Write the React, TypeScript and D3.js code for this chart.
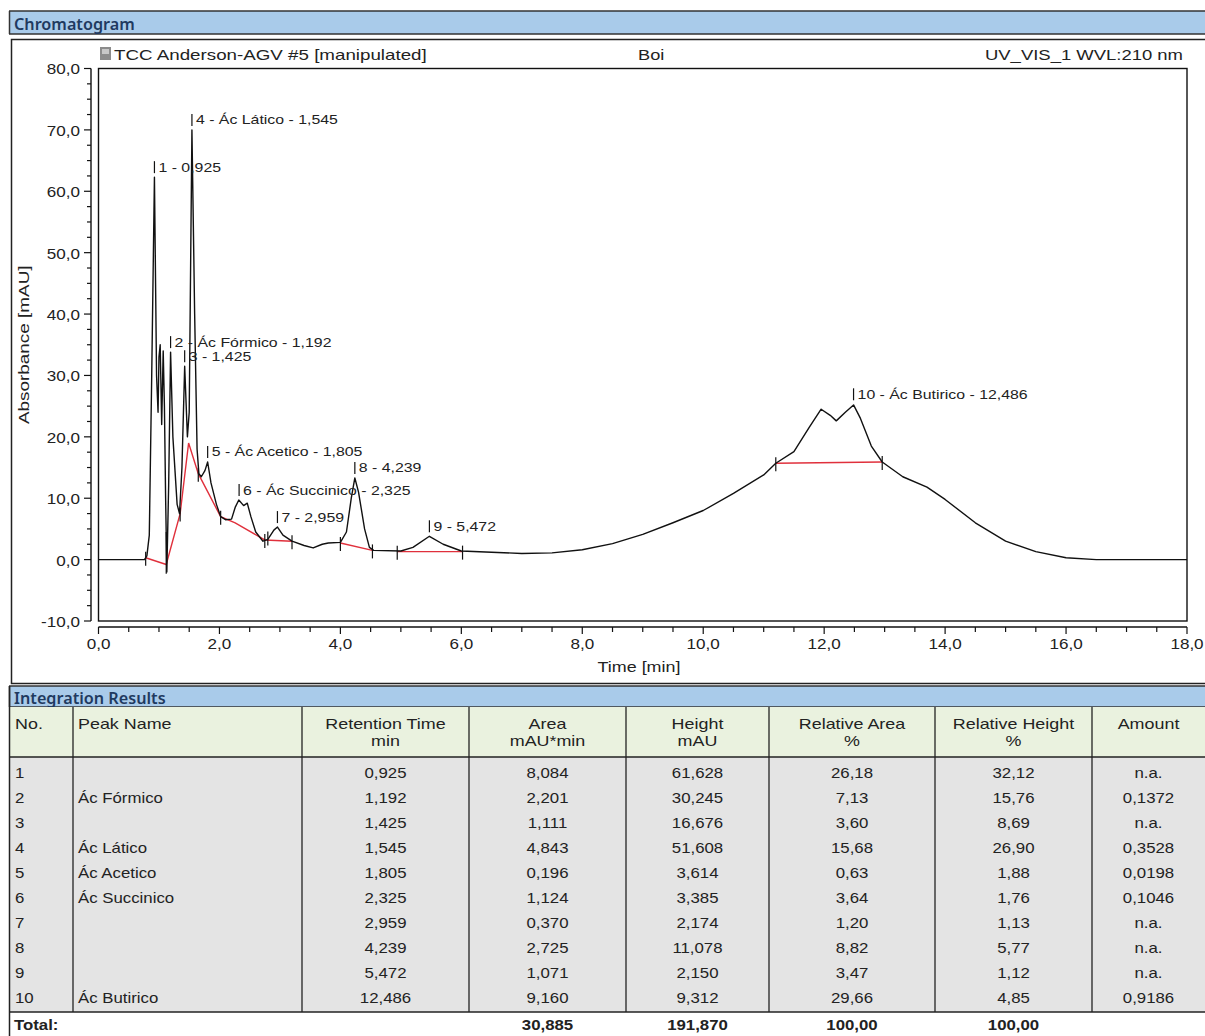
import React, { useEffect, useRef } from "react";
import * as d3 from "d3";

// peak table
const peakNo = [1, 2, 3, 4, 5, 6, 7, 8, 9, 10];
const peakNames = ["", "Ác Fórmico", "", "Ác Lático", "Ác Acetico", "Ác Succinico", "", "", "", "Ác Butirico"];
const retTimes = [0.925, 1.192, 1.425, 1.545, 1.805, 2.325, 2.959, 4.239, 5.472, 12.486];
const areas = [8.084, 2.201, 1.111, 4.843, 0.196, 1.124, 0.37, 2.725, 1.071, 9.16];
const heights = [61.628, 30.245, 16.676, 51.608, 3.614, 3.385, 2.174, 11.078, 2.15, 9.312];
const relAreas = [26.18, 7.13, 3.6, 15.68, 0.63, 3.64, 1.2, 8.82, 3.47, 29.66];
const relHeights = [32.12, 15.76, 8.69, 26.9, 1.88, 1.76, 1.13, 5.77, 1.12, 4.85];
const amounts: (number | null)[] = [null, 0.1372, null, 0.3528, 0.0198, 0.1046, null, null, null, 0.9186];
const totals = { area: 30.885, height: 191.87, relArea: 100.0, relHeight: 100.0 };

// apex absorbance (mAU)
const apexAbs = [62.3, 33.8, 31.5, 70.0, 15.9, 9.7, 5.3, 13.3, 3.8, 25.3];

// chromatogram trace (min, mAU)
const traceT = [
  0, 0.76, 0.8, 0.84, 0.88, 0.925, 0.96, 0.985, 1.0, 1.02, 1.045, 1.07, 1.09, 1.11, 1.13, 1.16, 1.192, 1.23,
  1.3, 1.34, 1.38, 1.425, 1.47, 1.5, 1.545, 1.59, 1.63, 1.66, 1.7, 1.76, 1.805, 1.86, 1.95, 2.02, 2.1, 2.2,
  2.26, 2.32, 2.4, 2.46, 2.52, 2.6, 2.72, 2.8, 2.9, 2.96, 3.05, 3.2, 3.4, 3.55, 3.7, 3.8, 4.0, 4.1, 4.18,
  4.239, 4.3, 4.4, 4.48, 4.55, 5.0, 5.2, 5.472, 5.7, 6.0, 6.5, 7.0, 7.5, 8.0, 8.5, 9.0, 9.5, 10.0, 10.5,
  11.0, 11.2, 11.5, 11.75, 11.95, 12.1, 12.2, 12.35, 12.486, 12.6, 12.78, 12.96, 13.3, 13.7, 14.0, 14.5,
  15.0, 15.5, 16.0, 16.5, 18.0,
];
const traceV = [
  0, 0, 0.6, 4, 30, 62.3, 30, 24, 33, 35, 22, 34, 25, 10, -2, 12, 33.8, 20,
  9, 7.5, 15, 31.5, 20, 24, 70, 40, 18, 14, 13.5, 14.5, 15.9, 12.5, 9, 7, 6.5, 6.6,
  8.5, 9.7, 8.8, 9.2, 7, 4.5, 3.0, 3.3, 4.8, 5.3, 4.0, 3.0, 2.3, 1.9, 2.5, 2.7, 2.8, 4.5, 10,
  13.3, 11, 5, 2, 1.5, 1.4, 2.0, 3.8, 2.5, 1.4, 1.2, 1.0, 1.1, 1.6, 2.6, 4.1, 6.0, 8.0, 10.8,
  13.8, 15.7, 17.6, 21.5, 24.5, 23.5, 22.6, 24, 25.2, 23, 18.5, 15.9, 13.5, 11.8, 9.8, 6.0,
  3.0, 1.3, 0.3, 0, 0,
];

// integration baselines (red)
const baseSegments: [number, number][][] = [
  [[0.78, 0.3], [1.12, -0.8]],
  [[1.12, -0.8], [1.35, 7.5], [1.49, 19], [1.65, 14], [2.02, 7], [2.26, 6], [2.75, 3.2], [3.2, 3.0]],
  [[4.0, 2.7], [4.53, 1.5]],
  [[4.94, 1.3], [6.02, 1.3]],
  [[11.2, 15.7], [12.96, 15.9]],
];
const delimiters: [number, number][] = [
  [0.78, 0.3], [1.35, 7.5], [1.65, 14], [2.02, 7], [2.75, 3.2], [2.8, 3.6], [3.2, 3.0],
  [4.0, 2.7], [4.53, 1.5], [4.94, 1.3], [6.02, 1.3], [11.2, 15.7], [12.96, 15.9],
];

const yTicks = d3.range(-10, 80.1, 2.5);
const xTicks = d3.range(0, 18.01, 0.5);

const colX = [10, 73, 302, 469, 626, 769, 935, 1092, 1205];
const headLine1 = ["No.", "Peak Name", "Retention Time", "Area", "Height", "Relative Area", "Relative Height", "Amount"];
const headLine2 = ["", "", "min", "mAU*min", "mAU", "%", "%", ""];

const fmt = (v: number, d: number) => v.toFixed(d).replace(".", ",");
const FONT = "'Liberation Sans', Arial, sans-serif";
const HFONT = "'Noto Sans', 'Open Sans', sans-serif";

type Sel = d3.Selection<SVGSVGElement, unknown, null, undefined>;

// text that is a little wider than tall, like the scanned report
const label = (
  svg: Sel, x: number, y: number, s: string,
  o: { size?: number; sx?: number; anchor?: string; bold?: boolean; rotate?: number } = {}
) => {
  const { size = 14, sx = 1.25, anchor = "start", bold = false, rotate = 0 } = o;
  svg.append("text")
    .attr("transform", `translate(${x},${y}) rotate(${rotate}) scale(${sx},1)`)
    .attr("text-anchor", anchor).attr("dominant-baseline", "central")
    .attr("font-family", FONT).attr("font-size", size).attr("font-weight", bold ? 700 : 400)
    .attr("fill", "#222").text(s);
};

const App: React.FC = () => {
  const svgRef = useRef<SVGSVGElement | null>(null);

  useEffect(() => {
    if (!svgRef.current) return;
    const svg = d3.select(svgRef.current);
    svg.selectAll("*").remove();
    const W = 1205, H = 1036;
    svg.attr("width", W).attr("height", H);
    svg.append("rect").attr("width", W).attr("height", H).attr("fill", "#fff");

    const x = d3.scaleLinear().domain([0, 18]).range([98.5, 1187]);
    const y = d3.scaleLinear().domain([-10, 80]).range([621, 68.5]);

    // ---- section bars
    const bar = (top: number, h: number, text: string) => {
      svg.append("rect").attr("x", 9).attr("y", top).attr("width", W).attr("height", h).attr("fill", "#a9cbea");
      svg.append("line").attr("x1", 9).attr("x2", W).attr("y1", top).attr("y2", top).attr("stroke", "#333").attr("stroke-width", 1.5);
      svg.append("line").attr("x1", 9).attr("x2", W).attr("y1", top + h).attr("y2", top + h).attr("stroke", "#333").attr("stroke-width", 1.5);
      svg.append("line").attr("x1", 9.5).attr("x2", 9.5).attr("y1", top).attr("y2", top + h).attr("stroke", "#333").attr("stroke-width", 1.5);
      svg.append("text").attr("x", 14).attr("y", top + h / 2 + 1).attr("dominant-baseline", "central")
        .attr("font-family", HFONT).attr("font-weight", 600).attr("font-size", 16.2).attr("fill", "#1f3a60").text(text);
    };
    bar(11, 23, "Chromatogram");

    // chart box
    svg.append("rect").attr("x", 11.5).attr("y", 39.5).attr("width", W).attr("height", 644)
      .attr("fill", "none").attr("stroke", "#222").attr("stroke-width", 1.5);

    // title line
    svg.append("rect").attr("x", 100).attr("y", 47).attr("width", 11).attr("height", 13).attr("fill", "#8c8c8c");
    svg.append("rect").attr("x", 102).attr("y", 49).attr("width", 7).attr("height", 5).attr("fill", "#c8c8c8");
    label(svg, 114, 55, "TCC Anderson-AGV #5 [manipulated]", { sx: 1.34 });
    label(svg, 638, 55, "Boi", { sx: 1.3 });
    label(svg, 1183, 55, "UV_VIS_1 WVL:210 nm", { sx: 1.32, anchor: "end" });

    // plot frame
    svg.append("rect").attr("x", x(0)).attr("y", y(80)).attr("width", x(18) - x(0)).attr("height", y(-10) - y(80))
      .attr("fill", "none").attr("stroke", "#111").attr("stroke-width", 1.4);

    // y axis
    const ax = 91;
    svg.append("line").attr("x1", ax).attr("x2", ax).attr("y1", y(80)).attr("y2", y(-10)).attr("stroke", "#111").attr("stroke-width", 1.4);
    yTicks.forEach((v) => {
      const major = Math.abs(v % 10) < 1e-6;
      svg.append("line").attr("x1", ax - (major ? 7 : 4)).attr("x2", ax).attr("y1", y(v)).attr("y2", y(v))
        .attr("stroke", "#111").attr("stroke-width", 1.2);
      if (major) label(svg, ax - 11, y(v) + 1, fmt(v, 1), { sx: 1.22, anchor: "end" });
    });
    label(svg, 24, y(35), "Absorbance [mAU]", { sx: 1.35, anchor: "middle", rotate: -90 });

    // x axis
    const ay = 627;
    svg.append("line").attr("x1", x(0)).attr("x2", x(18)).attr("y1", ay).attr("y2", ay).attr("stroke", "#111").attr("stroke-width", 1.4);
    xTicks.forEach((t) => {
      const major = Math.abs(t % 2) < 1e-6;
      svg.append("line").attr("x1", x(t)).attr("x2", x(t)).attr("y1", ay).attr("y2", ay + (major ? 7 : 5))
        .attr("stroke", "#111").attr("stroke-width", 1.2);
      if (major) label(svg, x(t), ay + 17, fmt(t, 1), { sx: 1.22, anchor: "middle" });
    });
    label(svg, 639, 667, "Time [min]", { sx: 1.28, anchor: "middle" });

    // baselines
    const line = d3.line<[number, number]>().x((d) => x(d[0])).y((d) => y(d[1]));
    baseSegments.forEach((seg) => {
      svg.append("path").attr("d", line(seg)).attr("fill", "none").attr("stroke", "#e0303c").attr("stroke-width", 1.4);
    });

    // trace
    const pts: [number, number][] = traceT.map((t, i) => [t, traceV[i]]);
    svg.append("path").attr("d", line(pts)).attr("fill", "none").attr("stroke", "#111").attr("stroke-width", 1.4)
      .attr("stroke-linejoin", "round");

    // peak delimiters
    delimiters.forEach(([t, v]) => {
      svg.append("line").attr("x1", x(t)).attr("x2", x(t)).attr("y1", y(v) - 6).attr("y2", y(v) + 8)
        .attr("stroke", "#111").attr("stroke-width", 1.2);
    });
    svg.append("line").attr("x1", x(1.12)).attr("x2", x(1.12)).attr("y1", y(4.5)).attr("y2", y(-2.3))
      .attr("stroke", "#111").attr("stroke-width", 1.2);

    // peak labels
    retTimes.forEach((rt, i) => {
      const py = y(apexAbs[i]);
      svg.append("line").attr("x1", x(rt)).attr("x2", x(rt)).attr("y1", py - 16).attr("y2", py - 4)
        .attr("stroke", "#111").attr("stroke-width", 1.2);
      const name = peakNames[i] ? `${peakNo[i]} - ${peakNames[i]} - ${fmt(rt, 3)}` : `${peakNo[i]} - ${fmt(rt, 3)}`;
      label(svg, x(rt) + 4, py - 10, name, { size: 13, sx: 1.22 });
    });

    // ---- Integration Results
    bar(686, 21, "Integration Results");
    const headTop = 707, headBot = 757, rowH = 25, rowTop = 760, dataBot = 1012;
    svg.append("rect").attr("x", 10).attr("y", headTop).attr("width", W).attr("height", headBot - headTop).attr("fill", "#eaf2df");
    svg.append("rect").attr("x", 10).attr("y", headBot).attr("width", W).attr("height", dataBot - headBot).attr("fill", "#e4e4e4");
    [headBot, dataBot].forEach((ly) => {
      svg.append("line").attr("x1", 9).attr("x2", W).attr("y1", ly).attr("y2", ly).attr("stroke", "#222").attr("stroke-width", 1.5);
    });
    svg.append("line").attr("x1", 9.5).attr("x2", 9.5).attr("y1", 686).attr("y2", H).attr("stroke", "#222").attr("stroke-width", 1.5);
    colX.slice(1, -1).forEach((cx) => {
      svg.append("line").attr("x1", cx).attr("x2", cx).attr("y1", headTop).attr("y2", dataBot).attr("stroke", "#222").attr("stroke-width", 1.3);
    });

    const cell = (ci: number, cy: number, s: string, bold = false, sx = 1.2) => {
      const left = ci < 2;
      label(svg, left ? colX[ci] + 5 : (colX[ci] + colX[ci + 1]) / 2, cy, s,
        { anchor: left ? "start" : "middle", bold, sx });
    };
    headLine1.forEach((h, ci) => cell(ci, 724, h, false, 1.28));
    headLine2.forEach((h, ci) => h && cell(ci, 741, h, false, 1.28));

    peakNo.forEach((n, i) => {
      const cy = rowTop + 13 + i * rowH;
      cell(0, cy, String(n));
      if (peakNames[i]) cell(1, cy, peakNames[i]);
      cell(2, cy, fmt(retTimes[i], 3));
      cell(3, cy, fmt(areas[i], 3));
      cell(4, cy, fmt(heights[i], 3));
      cell(5, cy, fmt(relAreas[i], 2));
      cell(6, cy, fmt(relHeights[i], 2));
      cell(7, cy, amounts[i] === null ? "n.a." : fmt(amounts[i] as number, 4));
    });

    const ty = 1025;
    label(svg, 14, ty, "Total:", { bold: true, sx: 1.2 });
    cell(3, ty, fmt(totals.area, 3), true);
    cell(4, ty, fmt(totals.height, 3), true);
    cell(5, ty, fmt(totals.relArea, 2), true);
    cell(6, ty, fmt(totals.relHeight, 2), true);
  }, []);

  return <svg ref={svgRef} style={{ position: "absolute", left: 0, top: 0, display: "block" }}></svg>;
};

export default App;
